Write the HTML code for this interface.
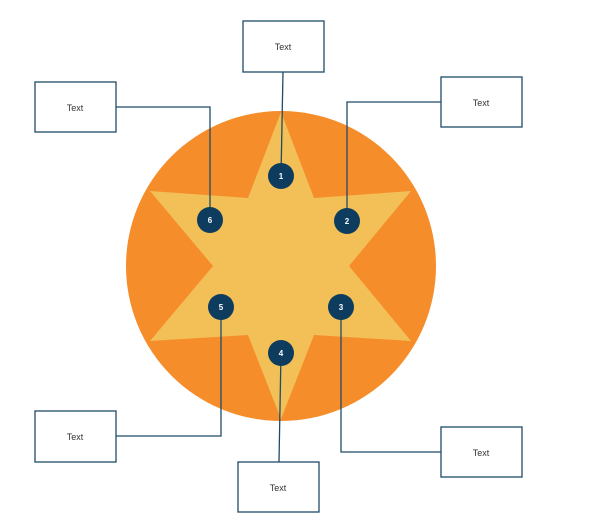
<!DOCTYPE html><html><head><style>body{margin:0;background:#fff}svg{display:block}</style></head><body>
<svg width="602" height="530" xmlns="http://www.w3.org/2000/svg" font-family="Liberation Sans, sans-serif">
<circle cx="281" cy="266" r="155" fill="#f58d2b"/>
<polygon points="281,112 314,198 411,191 349,266 411,341 314,335 281,419 248,335 150,341 213,266 150,191 248,198" fill="#f2c057"/>
<g fill="none" stroke="#1f4a68" stroke-width="1.3">
<polyline points="283,72 281,176"/>
<polyline points="116,107 210,107 210,220"/>
<polyline points="441,102 347,102 347,221"/>
<polyline points="221,307 221,436 116,436"/>
<polyline points="341,307 341,452 441,452"/>
<polyline points="281,353 279,462"/>
</g>
<g fill="#fff" stroke="#1f4a68" stroke-width="1.3">
<rect x="243" y="21" width="81" height="51"/>
<rect x="35" y="82" width="81" height="50"/>
<rect x="441" y="77" width="81" height="50"/>
<rect x="35" y="411" width="81" height="51"/>
<rect x="238" y="462" width="81" height="50"/>
<rect x="441" y="427" width="81" height="50"/>
</g>
<g font-size="9" fill="#333" text-anchor="middle">
<text x="283" y="50">Text</text><text x="75" y="111">Text</text><text x="481" y="106">Text</text>
<text x="75" y="440">Text</text><text x="278" y="491">Text</text><text x="481" y="456">Text</text>
</g>
<g fill="#0d3c5e">
<circle cx="281" cy="176" r="13"/><circle cx="347" cy="221" r="13"/><circle cx="341" cy="307" r="13"/>
<circle cx="281" cy="353" r="13"/><circle cx="221" cy="307" r="13"/><circle cx="210" cy="220" r="13"/>
</g>
<g font-size="8" font-weight="bold" fill="#fff" text-anchor="middle">
<text x="281" y="179">1</text><text x="347" y="224">2</text><text x="341" y="310">3</text>
<text x="281" y="356">4</text><text x="221" y="310">5</text><text x="210" y="223">6</text>
</g>
</svg></body></html>
